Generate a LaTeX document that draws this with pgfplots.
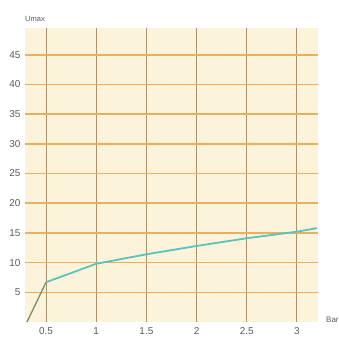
\documentclass[border=0pt]{standalone}
\usepackage{pgfplots}
\pgfplotsset{compat=1.18}
\usepackage{fontspec}
\setmainfont{Liberation Sans}
\definecolor{bgcream}{HTML}{FCF4DA}
\definecolor{hgrid}{HTML}{E9AE5E}
\definecolor{vgrid}{HTML}{A8936C}
\definecolor{curveteal}{HTML}{5CC2BA}
\definecolor{curvegrey}{HTML}{7D8A6C}
\definecolor{labgrey}{HTML}{5A5A5A}
\begin{document}
\begin{tikzpicture}
\begin{axis}[
  at={(0pt,0pt)}, anchor=south west,
  scale only axis, width=293pt, height=294pt,
  xmin=0.29, xmax=3.21, ymin=0, ymax=49.5,
  axis line style={draw=none},
  axis background/.style={fill=bgcream},
  xtick={0.5,1,1.5,2,2.5,3},
  xticklabels={0.5,1,1.5,2,2.5,3},
  ytick={5,10,15,20,25,30,35,40,45},
  major tick length=0pt,
  xmajorgrids, ymajorgrids,
  x grid style={vgrid, line width=1.1pt},
  y grid style={hgrid, line width=1.6pt},
  tick label style={font=\fontsize{10}{10}\selectfont, text=labgrey},
  /pgf/number format/assume math mode=true,
  xticklabel style={yshift=-2pt},
  yticklabel style={xshift=-1pt},
  clip=false,
]
\addplot[curvegrey, line width=1.3pt] coordinates {(0.31,0) (0.5,6.7)};
\addplot[curveteal, line width=1.8pt] coordinates {
 (0.5,6.7) (1,9.8) (1.5,11.4) (2,12.8) (2.5,14.1) (3,15.2) (3.2,15.8)};
\node[anchor=south west, font=\fontsize{7.5}{7.5}\selectfont, text=labgrey, inner sep=0pt] at (rel axis cs:0,1) [yshift=6pt] {Umax};
\node[anchor=west, font=\fontsize{8}{8}\selectfont, text=labgrey, inner sep=0pt] at (rel axis cs:1,0) [xshift=8pt, yshift=2pt] {Bar};
\end{axis}
\pgfresetboundingbox
\path[use as bounding box] (-25pt,-20pt) rectangle (314pt,322pt);
\end{tikzpicture}
\end{document}
